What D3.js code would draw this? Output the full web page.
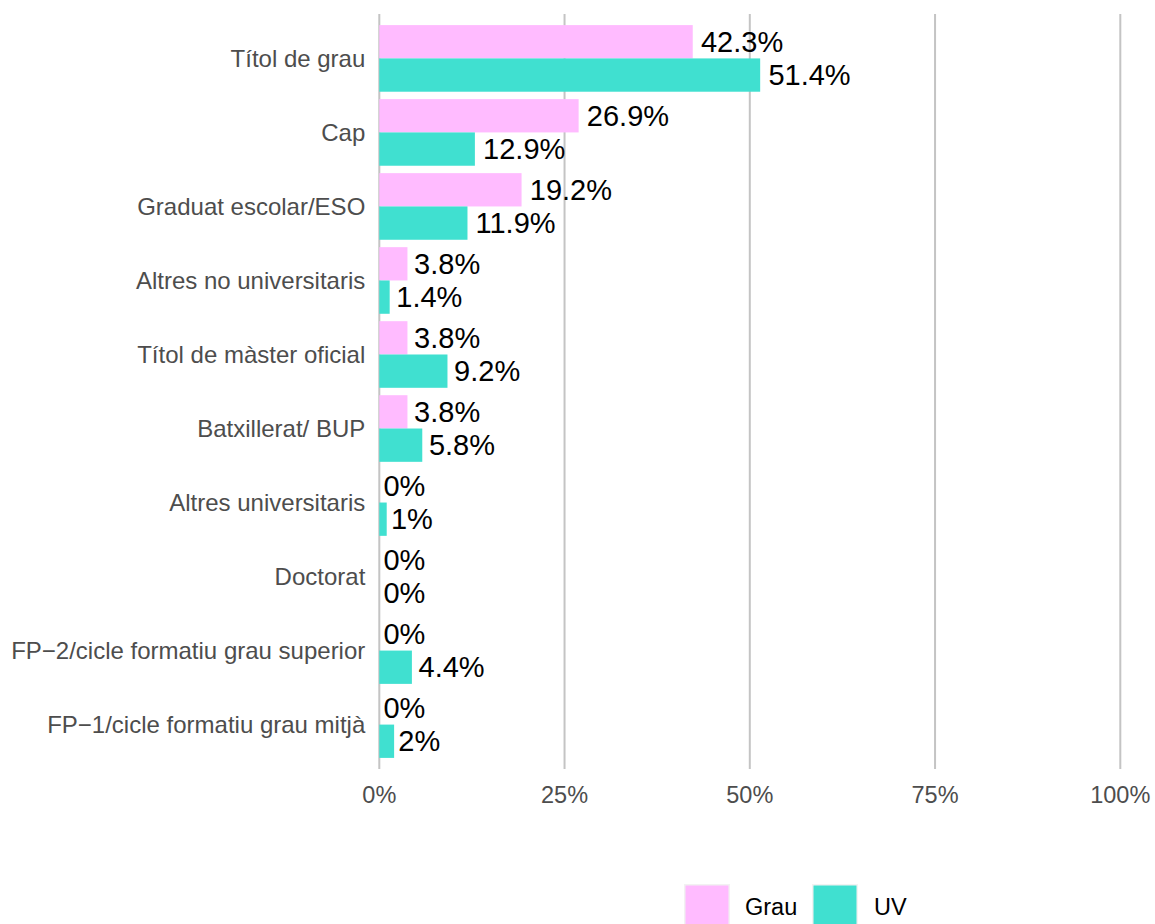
<!DOCTYPE html>
<html>
<head>
<meta charset="utf-8">
<script src="https://cdn.jsdelivr.net/npm/d3@7"></script>
<style>
  html, body { margin: 0; padding: 0; background: #fff; }
  svg { display: block; font-family: "Liberation Sans", Arial, sans-serif; }
</style>
</head>
<body>
<svg id="chart" width="1155" height="924"></svg>
<script>
const categories = [
  "Títol de grau",
  "Cap",
  "Graduat escolar/ESO",
  "Altres no universitaris",
  "Títol de màster oficial",
  "Batxillerat/ BUP",
  "Altres universitaris",
  "Doctorat",
  "FP\u22122/cicle formatiu grau superior",
  "FP\u22121/cicle formatiu grau mitjà"
];
const seriesNames = ["Grau", "UV"];
const grauValues = [42.3, 26.9, 19.2, 3.8, 3.8, 3.8, 0, 0, 0, 0];
const uvValues   = [51.4, 12.9, 11.9, 1.4, 9.2, 5.8, 1, 0, 4.4, 2];
const xTicks = [0, 25, 50, 75, 100];
const xTickLabels = ["0%", "25%", "50%", "75%", "100%"];
const colors = ["#FFBBFF", "#40E0D0"];

const svg = d3.select("#chart");

const panel = { left: 379.3, right: 1120.3, top: 14, bottom: 769 };

const x = d3.scaleLinear().domain([0, 100]).range([panel.left, panel.right]);
const y = d3.scalePoint().domain(categories).range([panel.top, panel.bottom]).padding(0.6);
const bandH = y.step() * 0.9;
const sub = d3.scaleBand().domain(seriesNames).range([-bandH / 2, bandH / 2]);
const color = d3.scaleOrdinal().domain(seriesNames).range(colors);

// gridlines
svg.append("g").selectAll("line").data(xTicks).join("line")
  .attr("x1", d => x(d)).attr("x2", d => x(d))
  .attr("y1", panel.top).attr("y2", panel.bottom)
  .attr("stroke", "#C4C4C4").attr("stroke-width", 2);

// x tick labels
svg.append("g").selectAll("text").data(xTicks).join("text")
  .attr("x", d => x(d)).attr("y", 795)
  .attr("text-anchor", "middle").attr("dominant-baseline", "central")
  .attr("fill", "#4D4D4D").attr("font-size", 23.5)
  .text((d, i) => xTickLabels[i]);

// y axis labels
svg.append("g").selectAll("text").data(categories).join("text")
  .attr("x", panel.left - 14).attr("y", d => y(d))
  .attr("text-anchor", "end").attr("dominant-baseline", "central")
  .attr("fill", "#4D4D4D").attr("font-size", 24)
  .text(d => d);

const rows = [];
categories.forEach((c, i) => {
  rows.push({ cat: c, s: "Grau", v: grauValues[i] });
  rows.push({ cat: c, s: "UV", v: uvValues[i] });
});

// bars
svg.append("g").selectAll("rect").data(rows).join("rect")
  .attr("x", x(0))
  .attr("y", d => y(d.cat) + sub(d.s))
  .attr("width", d => x(d.v) - x(0))
  .attr("height", sub.bandwidth())
  .attr("fill", d => color(d.s));

// value labels (hjust = -0.1)
svg.append("g").selectAll("text").data(rows).join("text")
  .attr("y", d => y(d.cat) + sub(d.s) + sub.bandwidth() / 2)
  .attr("dominant-baseline", "central")
  .attr("font-size", 29).attr("fill", "#000")
  .text(d => d.v + "%")
  .attr("x", function(d) { return x(d.v) + 0.1 * this.getComputedTextLength(); });

// legend
const legendItems = [
  { name: "Grau", kx: 684, tx: 745 },
  { name: "UV", kx: 812, tx: 874 }
];
const lg = svg.append("g");
legendItems.forEach(it => {
  lg.append("rect")
    .attr("x", it.kx + 0.75).attr("y", 884.75)
    .attr("width", 44.5).attr("height", 44.5)
    .attr("fill", color(it.name))
    .attr("stroke", "#F2F2F2").attr("stroke-width", 1.5);
  lg.append("text")
    .attr("x", it.tx).attr("y", 907)
    .attr("dominant-baseline", "central")
    .attr("font-size", 23.5).attr("fill", "#000")
    .text(it.name);
});
</script>
</body>
</html>
